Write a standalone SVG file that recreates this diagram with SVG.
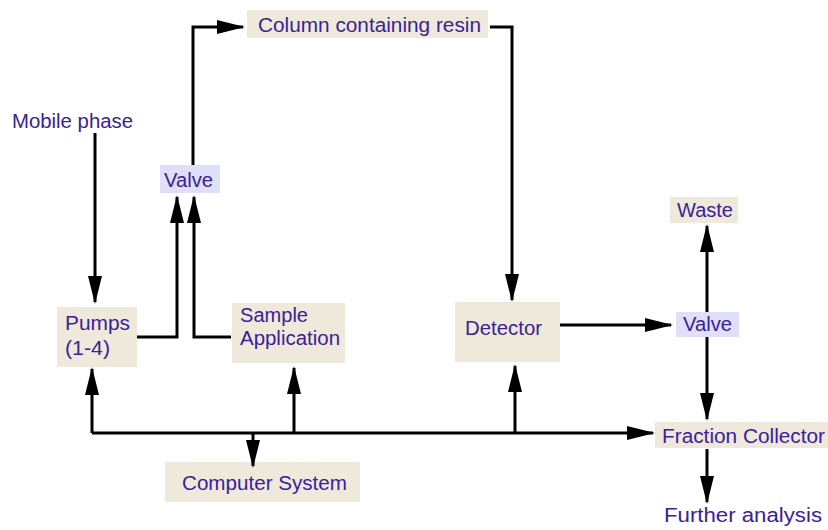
<svg xmlns="http://www.w3.org/2000/svg" width="828" height="530" viewBox="0 0 828 530">
<style>
  .t { font-family: "Liberation Sans", Arial, sans-serif; font-size: 20px; fill: #3a2199; }
  .box { fill: #efe9dc; }
  .vbox { fill: #dfe0f8; }
  .c { fill: none; stroke: #000; stroke-width: 3; }
  .a { marker-end: url(#ah); }
</style>
<defs>
  <marker id="ah" markerUnits="userSpaceOnUse" markerWidth="28" markerHeight="14" refX="26" refY="7" orient="auto" viewBox="0 0 28 14">
    <path d="M0,0 L28,7 L0,14 z" fill="#000"/>
  </marker>
</defs>
<rect width="828" height="530" fill="#fff"/>

<g id="column"><rect class="box" x="247" y="10" width="241" height="28"/><text class="t" x="258" y="32" textLength="223" lengthAdjust="spacingAndGlyphs">Column containing resin</text></g>
<g id="mobile"><text class="t" x="12" y="128" textLength="121" lengthAdjust="spacingAndGlyphs">Mobile phase</text></g>
<g id="valve1"><rect class="vbox" x="160" y="165" width="60" height="28"/><text class="t" x="164" y="187" textLength="49" lengthAdjust="spacingAndGlyphs">Valve</text></g>
<g id="pumps"><rect class="box" x="57" y="307" width="80" height="60"/><text class="t" x="65" y="330" textLength="65" lengthAdjust="spacingAndGlyphs">Pumps</text><text class="t" x="65" y="355" textLength="45" lengthAdjust="spacingAndGlyphs">(1-4)</text></g>
<g id="sample"><rect class="box" x="232" y="303" width="113" height="60"/><text class="t" x="240" y="322" textLength="68" lengthAdjust="spacingAndGlyphs">Sample</text><text class="t" x="240" y="345" textLength="100" lengthAdjust="spacingAndGlyphs">Application</text></g>
<g id="detector"><rect class="box" x="455" y="302" width="105" height="60"/><text class="t" x="465" y="335" textLength="77" lengthAdjust="spacingAndGlyphs">Detector</text></g>
<g id="valve2"><rect class="vbox" x="676" y="312" width="63" height="25"/><text class="t" x="683" y="331" textLength="49" lengthAdjust="spacingAndGlyphs">Valve</text></g>
<g id="waste"><rect class="box" x="670" y="197" width="68" height="26"/><text class="t" x="677" y="217" textLength="56" lengthAdjust="spacingAndGlyphs">Waste</text></g>
<g id="fraction"><rect class="box" x="655" y="422" width="173" height="26"/><text class="t" x="662" y="443" textLength="163" lengthAdjust="spacingAndGlyphs">Fraction Collector</text></g>
<g id="computer"><rect class="box" x="165" y="462" width="195" height="40"/><text class="t" x="182" y="490" textLength="165" lengthAdjust="spacingAndGlyphs">Computer System</text></g>
<g id="further"><text class="t" x="664" y="522" textLength="158" lengthAdjust="spacingAndGlyphs">Further analysis</text></g>

<g id="connectors">
  <path class="c a" d="M95,133 V302"/>
  <path class="c a" d="M137,337 H177 V197"/>
  <path class="c a" d="M231,337 H194 V197"/>
  <path class="c a" d="M193,165 V27 H243"/>
  <path class="c a" d="M490,27 H512 V300"/>
  <path class="c a" d="M560,325 H671"/>
  <path class="c a" d="M707,312 V226"/>
  <path class="c a" d="M707,337 V419"/>
  <path class="c a" d="M707,449 V502"/>
  <path class="c a" d="M92,433 H653"/>
  <path class="c a" d="M92,433 V369"/>
  <path class="c a" d="M294,433 V368"/>
  <path class="c a" d="M253,433 V466"/>
  <path class="c a" d="M515,433 V366"/>
</g>
</svg>
